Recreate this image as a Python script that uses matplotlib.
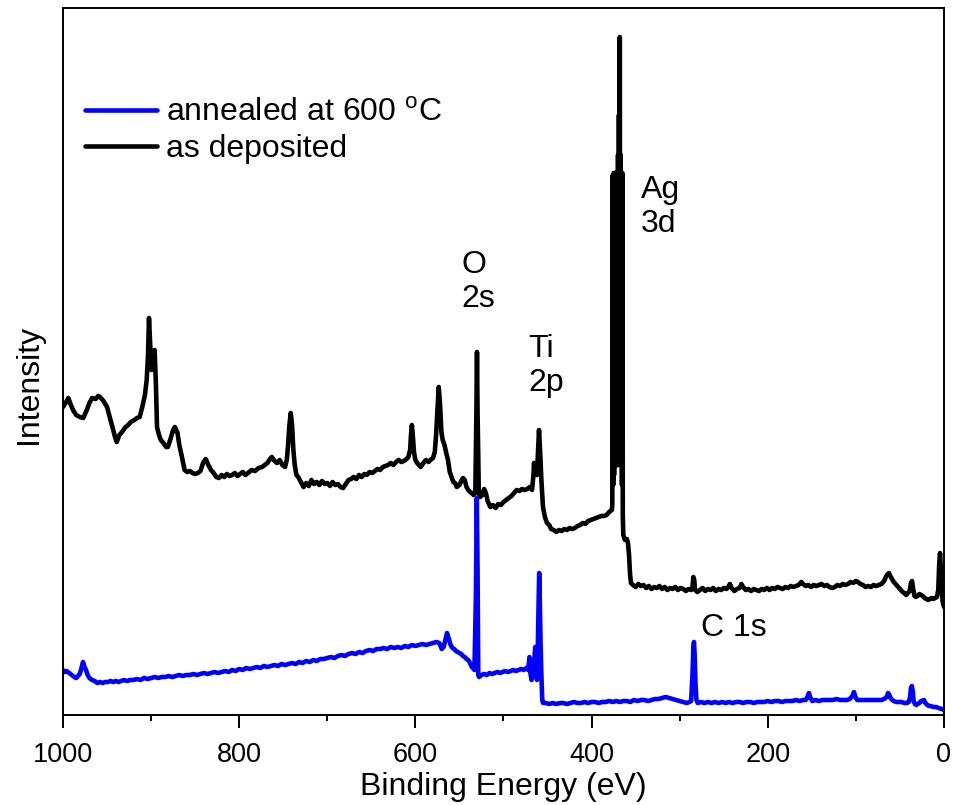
import matplotlib
matplotlib.use("Agg")
import matplotlib.pyplot as plt
from matplotlib.ticker import MultipleLocator

plt.rcParams['font.family'] = ['Liberation Sans', 'DejaVu Sans']
plt.rcParams['path.simplify'] = False

# XPS survey spectrum of the as-deposited film (binding energy in eV, intensity in a.u.)
energy_dep = [
    1000, 997, 994, 991, 988, 985, 981, 977, 973, 970, 967, 963, 960, 958, 954, 950, 947, 943, 941, 939,
    936, 933, 929, 926, 923, 919, 916, 913, 910, 907, 905, 903.5, 902.4, 901, 899.5, 898, 896, 894.5, 893.3, 891,
    889, 886, 883, 881, 878, 875, 873, 870, 868, 865, 862, 859, 856, 853, 850, 847, 844, 841, 838, 835,
    832, 829, 826, 823, 820, 817, 814, 811, 808, 805, 802, 799, 796, 793, 790, 786, 782, 778, 774, 771,
    768, 765, 763, 760, 757, 754, 751, 748, 746, 744.5, 743, 741.5, 740, 738.5, 737, 735, 733, 730, 727, 724,
    721, 718, 715, 712, 709, 706, 703, 700, 697, 694, 691, 688, 685, 682, 679, 676, 673, 670, 667, 664,
    661, 658, 655, 652, 649, 646, 643, 640, 637, 634, 631, 628, 625, 622, 619, 616, 613, 610, 608, 606,
    605, 604, 603, 601.5, 600, 598, 596, 594, 591, 588, 585, 583, 580, 578, 576.5, 575, 573.5, 572, 570.5, 569,
    567, 565, 563, 561, 559, 557, 555, 553, 550, 548, 546, 544, 542, 540, 538, 536, 534, 532, 530.8, 530.1,
    529.4, 528, 526.7, 524, 522, 520, 518, 515, 512, 509, 506, 503, 500, 497, 494, 491, 488, 485, 482, 479,
    476, 473, 470, 467.6, 466, 465.4, 464, 462, 461, 459.7, 458.5, 457, 455.2, 453, 450.6, 448, 446, 443, 440, 437,
    434, 431, 428, 425, 422, 419, 416, 413, 410, 407, 404, 401, 398, 395, 392, 389, 386, 383, 380, 377,
    376.5, 376, 375.5, 375, 374.5, 374, 373.5, 373, 372.5, 372, 371.5, 371, 370.5, 370, 369.5, 369, 368.5, 368, 367.5, 367,
    366.5, 366, 365.5, 365, 364.6, 364, 362.1, 360, 358.7,
    357.5, 356.3, 355.3, 353, 350, 347, 344, 341, 338, 335, 332, 329, 326, 323, 320, 317, 314, 311, 308, 305,
    302, 299, 296, 293, 290, 287, 285.5, 284.5, 283.5, 282.5, 280, 277, 274, 271, 268, 265, 262, 259, 256, 253,
    250, 247, 245, 243, 241, 238, 235, 232, 230, 228, 225, 222, 219, 216, 213, 210, 207, 204, 201, 198,
    195, 192, 189, 186, 183, 180, 177, 174, 171, 168, 165, 162, 160, 157, 154, 151, 148, 145, 142, 139,
    136, 133, 130, 127, 124, 121, 118, 115, 112, 109, 106, 103, 100, 97.6, 95, 92, 89, 86, 83, 80,
    77, 74, 71, 68, 66, 64, 62.4, 61, 59, 57, 55, 53, 51, 49, 47, 45, 43, 41, 39, 37.5,
    36.3, 35, 33.5, 32, 30, 28, 26, 24, 22, 20, 18, 16, 14, 12, 10, 8, 6.5, 5.5, 4.5, 3.5,
    2.5, 1.5, 0.5, 0]
intensity_dep = [
    308, 312, 317, 310, 304, 300, 298, 297, 305, 312, 317, 316, 319, 318, 314, 308, 298, 285, 278, 273,
    280, 283, 288, 290, 293, 295, 297, 298, 308, 320, 335, 360, 397, 370, 345, 352, 365, 330, 288, 280,
    275, 272, 268, 268, 276, 285, 288, 282, 270, 258, 245, 243, 244, 242, 241, 242, 244, 252, 256, 250,
    245, 242, 238, 237, 240, 238, 241, 239, 240, 242, 239, 241, 243, 240, 242, 245, 244, 247, 248, 250,
    252, 256, 258, 254, 252, 255, 250, 248, 255, 270, 290, 302, 290, 265, 250, 240, 238, 233, 228, 232,
    229, 235, 231, 233, 230, 234, 231, 232, 229, 233, 230, 231, 228, 227, 231, 235, 236, 238, 236, 240,
    238, 241, 240, 243, 242, 244, 246, 245, 248, 249, 250, 252, 250, 253, 255, 253, 254, 256, 258, 265,
    280, 290, 280, 262, 255, 252, 250, 248, 252, 255, 253, 255, 257, 263, 280, 305, 328, 310, 283, 275,
    270, 262, 255, 243, 238, 233, 232, 228, 230, 234, 237, 235, 228, 225, 223, 222, 220, 222, 300, 363,
    300, 222, 218, 220, 226, 222, 214, 208, 210, 207, 211, 210, 213, 215, 217, 219, 222, 225, 224, 226,
    225, 226, 228, 225, 240, 252, 242, 240, 260, 285, 265, 235, 208, 198, 192, 190, 186, 185, 183, 185,
    184, 186, 185, 187, 186, 187, 189, 190, 192, 191, 194, 195, 196, 197, 198, 199, 199, 200, 203, 205,
    210, 540, 230, 542, 240, 542, 250, 542, 250, 542, 250, 542, 250, 560, 250, 600, 300, 678, 300, 560,
    250, 542, 230, 542, 200, 180, 175, 176, 172,
    160, 140, 132, 130, 128, 131, 129, 130, 127, 129, 126, 128, 127, 129, 126, 128, 125, 127, 126, 128,
    125, 127, 126, 124, 126, 125, 128, 138, 135, 125, 123, 125, 127, 124, 126, 125, 127, 124, 126, 125,
    127, 126, 128, 131, 127, 124, 126, 127, 131, 128, 125, 126, 124, 126, 125, 124, 126, 125, 127, 125,
    127, 126, 128, 127, 126, 128, 127, 129, 128, 129, 130, 133, 131, 129, 130, 128, 130, 129, 130, 131,
    129, 130, 128, 127, 128, 130, 129, 131, 130, 131, 133, 132, 134, 133, 131, 130, 128, 129, 128, 130,
    129, 130, 131, 134, 138, 141, 142, 139, 136, 133, 131, 129, 127, 125, 123, 122, 120, 122, 124, 132,
    134, 126, 119, 118, 119, 121, 120, 119, 117, 116, 115, 116, 117, 116, 117, 118, 125, 150, 162, 145,
    125, 113, 110, 108]

# XPS survey spectrum after annealing at 600 C
energy_ann = [
    1000, 998, 996, 993, 990, 987, 985, 983, 981, 979, 977.3, 975.5, 973.9, 972, 970, 967, 964, 961, 958, 955,
    952, 949, 946, 943, 940, 937, 934, 931, 927, 924, 920, 916, 912, 908, 904, 900, 896, 892, 888, 884,
    880, 876, 872, 868, 864, 860, 856, 852, 848, 844, 840, 836, 832, 828, 824, 820, 816, 812, 808, 804,
    800, 796, 792, 788, 784, 780, 776, 772, 768, 764, 760, 756, 752, 748, 744, 740, 736, 732, 728, 724,
    720, 716, 712, 708, 704, 700, 696, 692, 688, 684, 680, 676, 672, 668, 664, 660, 656, 652, 648, 644,
    640, 636, 632, 628, 624, 620, 616, 612, 608, 604, 600, 596, 592, 588, 584, 580, 576, 573, 570, 568,
    566, 564.1, 562, 560, 558, 556, 554, 552, 550, 548, 546, 544, 542, 540, 538, 536, 534.6, 533, 531.3, 530.3,
    529.5, 528.6, 527.8, 525, 522, 519, 516, 513, 510, 507, 504, 501, 498, 495, 492, 489, 486, 483, 480, 477,
    474, 472, 470.5, 469.5, 468.2, 467, 465, 464, 463, 462, 461, 460, 459.5, 458.8, 458, 457, 456, 455, 452, 448,
    444, 440, 436, 432, 428, 424, 420, 416, 412, 408, 404, 400, 396, 392, 388, 384, 380, 376, 372, 368,
    364, 360, 356, 352, 348, 344, 340, 336, 332, 328, 324, 320, 316, 312, 308, 304, 300, 296, 292, 289,
    287, 285.5, 284.5, 283.8, 283, 282, 281, 279.5, 276, 272, 268, 264, 260, 256, 252, 248, 244, 240, 236, 232,
    228, 224, 220, 216, 212, 208, 204, 200, 196, 192, 188, 184, 180, 176, 172, 168, 164, 160, 157, 155,
    153.3, 151.5, 149.5, 146, 142, 138, 134, 130, 126, 122, 118, 114, 110, 107, 104, 102.2, 100.5, 98.5, 95, 91,
    87, 83, 79, 75, 71, 68, 65, 63.5, 62, 60, 57, 54, 51, 48, 45, 42, 40, 38.5, 37.5, 36.5,
    35.5, 34.5, 33, 31.5, 30, 28, 26.1, 24, 22.7, 21, 19, 17, 15, 12, 9, 6, 3, 1, 0]
intensity_ann = [
    45, 43, 44, 42, 40, 38, 37, 39, 41, 47, 53, 48, 45, 40, 37, 35, 34, 32, 33, 32,
    33, 33, 34, 33, 34, 33, 34, 35, 34, 35, 35, 36, 35, 37, 36, 37, 38, 37, 38, 38,
    39, 38, 39, 40, 39, 40, 40, 41, 40, 41, 42, 41, 42, 43, 42, 43, 44, 43, 45, 44,
    46, 45, 47, 46, 47, 48, 47, 49, 48, 49, 50, 49, 51, 50, 51, 52, 51, 53, 52, 54,
    53, 55, 54, 56, 56, 57, 58, 57, 59, 60, 59, 61, 62, 61, 63, 62, 64, 65, 64, 66,
    66, 67, 66, 68, 67, 68, 67, 69, 68, 70, 69, 70, 71, 70, 71, 72, 73, 72, 66, 68,
    75, 82, 76, 70, 67, 66, 64, 63, 62, 61, 59, 58, 56, 55, 52, 48, 47, 45, 120, 217,
    150, 40, 38, 40, 41, 40, 42, 41, 42, 43, 42, 43, 44, 43, 44, 45, 44, 45, 46, 45,
    47, 45, 58, 42, 35, 40, 55, 68, 50, 35, 70, 120, 142, 115, 75, 40, 15, 12, 12, 11,
    12, 11, 12, 12, 11, 12, 13, 12, 12, 13, 12, 13, 13, 12, 13, 13, 14, 13, 14, 13,
    14, 14, 13, 15, 14, 15, 15, 14, 15, 16, 16, 17, 18, 17, 16, 15, 14, 13, 12, 13,
    14, 40, 68, 73, 60, 30, 15, 12, 13, 12, 13, 12, 13, 12, 13, 12, 13, 12, 13, 13,
    12, 13, 13, 12, 13, 13, 13, 14, 13, 14, 14, 13, 14, 14, 14, 15, 14, 15, 15, 18,
    22, 17, 14, 15, 14, 15, 15, 15, 15, 16, 15, 15, 15, 16, 19, 23, 18, 15, 15, 15,
    15, 15, 15, 15, 15, 16, 18, 22, 20, 16, 14, 13, 13, 13, 12, 12, 13, 18, 27, 29,
    24, 14, 11, 10, 11, 12, 14, 14, 15, 12, 10, 9, 9, 8, 8, 7, 6, 6, 5]

# peak labels: text, binding energy of the left edge, intensity at the text centre
label_text = ["O\n2s", "Ti\n2p", "Ag\n3d", "C 1s"]
label_energy = [548, 472, 344, 276]
label_height = [433, 349, 508, 87]

fig = plt.figure(figsize=(9.56, 8.05), dpi=100)
ax = fig.add_axes([63 / 956, 1 - 715 / 805, (944 - 63) / 956, (715 - 8) / 805])

ax.plot(energy_dep, intensity_dep, color="black", lw=3.3,
        solid_joinstyle="round", solid_capstyle="round", label="as deposited")
ax.plot(energy_ann, intensity_ann, color="#0000ff", lw=3.3,
        solid_joinstyle="round", solid_capstyle="round",
        label="annealed at 600 $^{\\mathregular{o}}$C")

ax.set_xlim(1000, 0)
ax.set_ylim(0, 707)

ax.xaxis.set_major_locator(MultipleLocator(200))
ax.xaxis.set_minor_locator(MultipleLocator(100))
ax.tick_params(axis="x", which="major", direction="out", length=9.5, width=1.4,
               labelsize=19.5, pad=10, top=False)
ax.tick_params(axis="x", which="minor", direction="out", length=4.5, width=1.4, top=False)
ax.set_yticks([])
for s in ax.spines.values():
    s.set_linewidth(1.4)

ax.set_xlabel("Binding Energy (eV)", fontsize=23, labelpad=3)
ax.set_ylabel("Intensity", fontsize=23)
ax.yaxis.set_label_coords(-0.021, 0.468)

for txt, e, h in zip(label_text, label_energy, label_height):
    ax.text(e, h, txt, fontsize=23, ha="left", va="center", linespacing=1.2)

handles, labels = ax.get_legend_handles_labels()
ax.legend(handles[::-1], labels[::-1], loc="upper left", bbox_to_anchor=(0.025, 0.873),
          frameon=False, fontsize=23, handlelength=2.25, handletextpad=0.28,
          labelspacing=0.2, borderpad=0, borderaxespad=0)

fig.savefig("out.png", dpi=100)
